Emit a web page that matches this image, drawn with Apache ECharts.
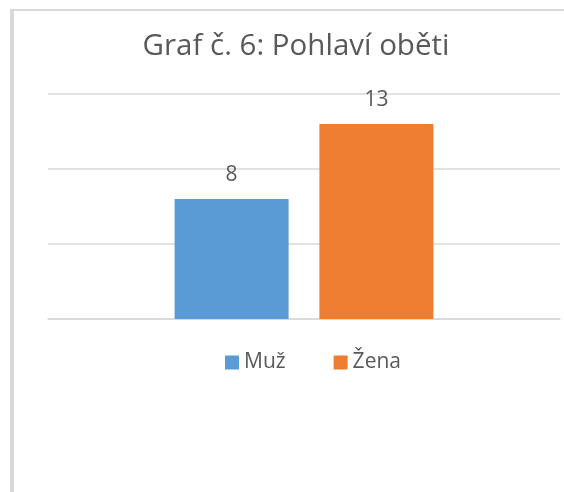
<!DOCTYPE html>
<html>
<head>
<meta charset="utf-8">
<script src="https://cdn.jsdelivr.net/npm/echarts@6/dist/echarts.min.js"></script>
<style>
  html, body { margin: 0; padding: 0; background: #fff; }
  #chart { width: 564px; height: 492px; }
</style>
</head>
<body>
<div id="chart"></div>
<script>
  var categories = ['Pohlaví']
  var seriesNames = ['Muž', 'Žena']
  var seriesValues = [[8], [13]]
  var seriesColors = ['#5b9bd5', '#ed7d31']

  var TEXT = '#595959'
  var LINE = '#d9d9d9'
  var FONT = '"Open Sans", "Liberation Sans", sans-serif'

  var chart = echarts.init(document.getElementById('chart'))

  var series = seriesNames.map(function (name, i) {
    return {
      name: name,
      type: 'bar',
      data: seriesValues[i],
      barWidth: 114,
      barGap: '27%',
      itemStyle: { color: seriesColors[i] },
      label: {
        show: true,
        position: 'top',
        distance: 13,
        color: TEXT,
        fontSize: 21,
        fontFamily: FONT
      }
    }
  })

  chart.setOption({
    animation: false,
    title: {
      text: 'Graf č. 6: Pohlaví oběti',
      left: 291,
      textAlign: 'center',
      top: 27,
      textStyle: { color: TEXT, fontSize: 29.5, fontWeight: 'normal', fontFamily: FONT }
    },
    legend: {
      top: 347,
      left: 220,
      itemWidth: 14,
      itemHeight: 14,
      itemGap: 48,
      icon: 'rect',
      textStyle: { color: TEXT, fontSize: 21, fontFamily: FONT },
      data: seriesNames
    },
    grid: { left: 48, right: 4, top: 94, bottom: 173 },
    xAxis: {
      type: 'category',
      data: categories,
      axisLine: { lineStyle: { color: LINE, width: 1.5 } },
      axisTick: { show: false },
      axisLabel: { show: false }
    },
    yAxis: {
      type: 'value',
      min: 0,
      max: 15,
      interval: 5,
      axisLabel: { show: false },
      axisLine: { show: false },
      axisTick: { show: false },
      splitLine: { lineStyle: { color: LINE, width: 1.5 } }
    },
    graphic: [
      { type: 'rect', shape: { x: 10, y: 10, width: 4, height: 482 }, style: { fill: LINE } },
      { type: 'rect', shape: { x: 10, y: 9, width: 554, height: 2 }, style: { fill: LINE } }
    ],
    series: series
  })
</script>
</body>
</html>
